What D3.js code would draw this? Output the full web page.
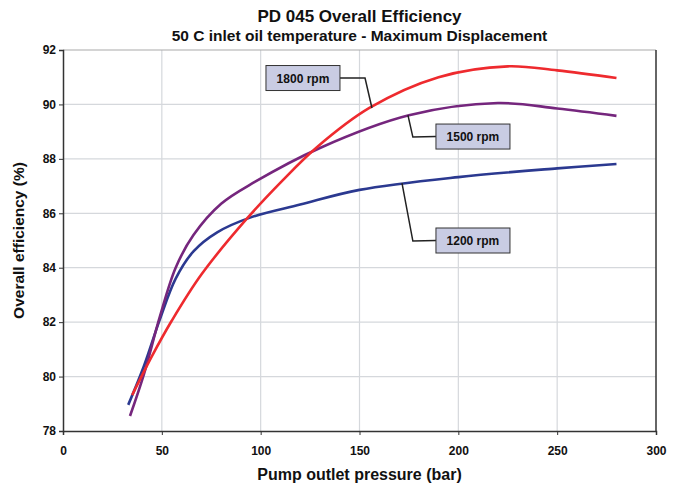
<!DOCTYPE html>
<html>
<head>
<meta charset="utf-8">
<script src="https://cdn.jsdelivr.net/npm/d3@7"></script>
<style>
  body { margin: 0; background: #fff; }
  svg text { font-family: "Liberation Sans", Arial, sans-serif; font-weight: bold; fill: #111; }
</style>
</head>
<body>
<svg id="chart" width="681" height="487"></svg>
<script>
// values
const xTicks = [0, 50, 100, 150, 200, 250, 300];
const yTicks = [78, 80, 82, 84, 86, 88, 90, 92];

const pressure1200 = [33, 41, 49, 57, 66, 78, 95, 120, 150, 200, 250, 280];
const eff1200 = [78.96, 80.4, 82.1, 83.6, 84.6, 85.3, 85.85, 86.32, 86.86, 87.33, 87.65, 87.81];

const pressure1500 = [33.9, 41, 49, 57, 66, 80, 97, 130, 175, 220, 250, 280];
const eff1500 = [78.55, 80.1, 82.2, 84.0, 85.2, 86.35, 87.15, 88.4, 89.6, 90.05, 89.85, 89.58];

const pressure1800 = [35, 45, 55, 70, 93, 111, 128, 155, 190, 225, 250, 280];
const eff1800 = [79.32, 80.75, 82.05, 83.75, 85.8, 87.2, 88.4, 89.87, 91.0, 91.4, 91.25, 90.97];

const seriesNames = ["1200 rpm", "1500 rpm", "1800 rpm"];
const seriesColors = ["#2b3990", "#75267d", "#ee2a2e"];

// label boxes: box centre and leader elbow / end, in data units
const labelBox = [[207.4, 85.0], [207.4, 88.82], [121.4, 90.97]];
const labelElbow = [[177.0, 84.98], [177.0, 88.8], [152.8, 90.97]];
const labelEnd = [[171.5, 87.11], [174.5, 89.61], [156.3, 89.87]];

const svg = d3.select("#chart");
const margin = { top: 50, right: 25, bottom: 56, left: 63 };
const width = 681 - margin.left - margin.right;
const height = 487 - margin.top - margin.bottom;

const g = svg.append("g").attr("transform", `translate(${margin.left},${margin.top})`);

const x = d3.scaleLinear().domain([0, 300]).range([0, width]);
const y = d3.scaleLinear().domain([78, 92]).range([height, 0]);

// grid
g.selectAll(".vgrid").data(xTicks.slice(1, -1)).enter().append("line")
  .attr("x1", d => x(d)).attr("x2", d => x(d))
  .attr("y1", 0).attr("y2", height)
  .attr("stroke", "#d5d8dc").attr("stroke-width", 1.2);
g.selectAll(".hgrid").data(yTicks.slice(1, -1)).enter().append("line")
  .attr("x1", 0).attr("x2", width)
  .attr("y1", d => y(d)).attr("y2", d => y(d))
  .attr("stroke", "#d5d8dc").attr("stroke-width", 1.2);

// frame: top light, right dark
g.append("line").attr("x1", 0).attr("x2", width).attr("y1", 0).attr("y2", 0)
  .attr("stroke", "#aaa").attr("stroke-width", 1.2);
g.append("line").attr("x1", width).attr("x2", width).attr("y1", 0).attr("y2", height)
  .attr("stroke", "#333").attr("stroke-width", 1.5);

// axes
const xAxis = g.append("g").attr("transform", `translate(0,${height})`)
  .call(d3.axisBottom(x).tickValues(xTicks).tickSize(4).tickPadding(11));
const yAxis = g.append("g")
  .call(d3.axisLeft(y).tickValues(yTicks).tickSize(4).tickPadding(3));
[xAxis, yAxis].forEach(a => {
  a.select(".domain").attr("stroke", "#333").attr("stroke-width", 1.5);
  a.selectAll(".tick line").attr("stroke", "#333");
  a.selectAll(".tick text").attr("font-size", 12).attr("font-family", "Liberation Sans, Arial, sans-serif")
    .attr("font-weight", "bold").attr("fill", "#111");
});

// curves
const allX = [pressure1200, pressure1500, pressure1800];
const allY = [eff1200, eff1500, eff1800];
const line = d3.line().x(d => x(d[0])).y(d => y(d[1])).curve(d3.curveCatmullRom.alpha(0.5));

seriesNames.forEach((name, i) => {
  const pts = allX[i].map((p, j) => [p, allY[i][j]]);
  g.append("path").datum(pts)
    .attr("fill", "none")
    .attr("stroke", seriesColors[i])
    .attr("stroke-width", 2.6)
    .attr("d", line);
});

// labels with leader lines
const boxW = 74, boxH = 25;
seriesNames.forEach((name, i) => {
  const bx = x(labelBox[i][0]), by = y(labelBox[i][1]);
  const leftSide = x(labelElbow[i][0]) < bx;
  const startX = leftSide ? bx - boxW / 2 : bx + boxW / 2;
  g.append("polyline")
    .attr("points", [[startX, by], [x(labelElbow[i][0]), y(labelElbow[i][1])], [x(labelEnd[i][0]), y(labelEnd[i][1])]].join(" "))
    .attr("fill", "none").attr("stroke", "#222").attr("stroke-width", 1.5);
  g.append("rect")
    .attr("x", bx - boxW / 2).attr("y", by - boxH / 2)
    .attr("width", boxW).attr("height", boxH)
    .attr("fill", "#c9cce3").attr("stroke", "#333").attr("stroke-width", 1);
  g.append("text")
    .attr("x", bx).attr("y", by + 4.5)
    .attr("text-anchor", "middle").attr("font-size", 12)
    .text(name);
});

// titles
const cx = margin.left + width / 2;
svg.append("text").attr("x", cx).attr("y", 22).attr("text-anchor", "middle")
  .attr("font-size", 17).text("PD 045 Overall Efficiency");
svg.append("text").attr("x", cx).attr("y", 41).attr("text-anchor", "middle")
  .attr("font-size", 15.5).text("50 C inlet oil temperature - Maximum Displacement");
svg.append("text").attr("x", cx).attr("y", 480).attr("text-anchor", "middle")
  .attr("font-size", 16).text("Pump outlet pressure (bar)");
svg.append("text").attr("transform", `translate(24,${margin.top + height / 2}) rotate(-90)`)
  .attr("text-anchor", "middle").attr("font-size", 15.5).text("Overall efficiency (%)");
</script>
</body>
</html>
